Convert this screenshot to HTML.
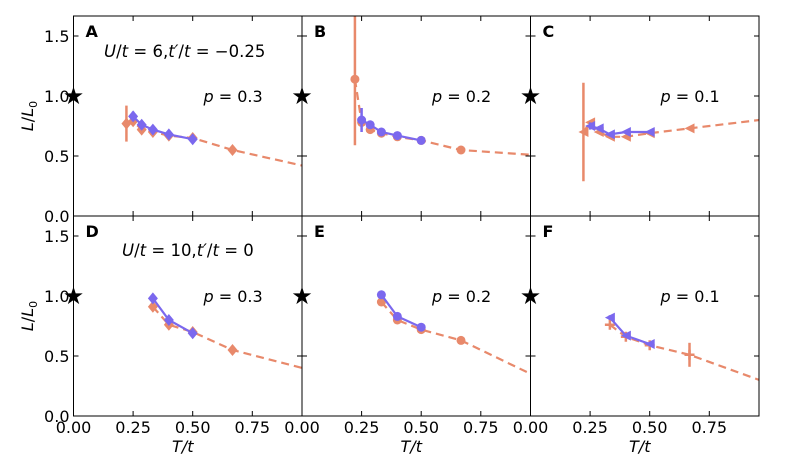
<!DOCTYPE html>
<html><head><meta charset="utf-8"><style>
body{margin:0;background:#fff}
svg text{font-family:"DejaVu Sans","Liberation Sans",sans-serif}
</style></head><body>
<svg id="c" width="788" height="465" xmlns="http://www.w3.org/2000/svg"></svg>
<script>
const xTicks=[0,0.25,0.5,0.75];
const xTickLabels=["0.00","0.25","0.50","0.75"];
const yTicks=[0,0.5,1.0,1.5];
const yTickLabels=["0.0","0.5","1.0","1.5"];
const panelLetters=["A","B","C","D","E","F"];
const pLabels=["p = 0.3","p = 0.2","p = 0.1","p = 0.3","p = 0.2","p = 0.1"];
const markers=["diamond","circle","tri","diamond","circle","plus"];
const blueMarkers=["diamond","circle","tri","diamond","circle","tri"];
const orangeX=[
 [0.222,0.25,0.286,0.333,0.4,0.5,0.667,0.96],
 [0.222,0.25,0.286,0.333,0.4,0.5,0.667,0.96],
 [0.222,0.25,0.286,0.333,0.4,0.5,0.667,0.96],
 [0.333,0.4,0.5,0.667,0.96],
 [0.333,0.4,0.5,0.667,0.96],
 [0.333,0.4,0.5,0.667,0.96]];
const orangeY=[
 [0.77,0.79,0.72,0.70,0.67,0.65,0.55,0.42],
 [1.14,0.78,0.72,0.69,0.66,0.63,0.55,0.51],
 [0.70,0.78,0.70,0.66,0.66,0.69,0.73,0.80],
 [0.91,0.76,0.70,0.55,0.40],
 [0.95,0.80,0.72,0.63,0.35],
 [0.76,0.66,0.59,0.51,0.30]];
const orangeErr=[
 [0.15,0,0,0,0,0,0],
 [0.55,0,0,0,0,0,0],
 [0.41,0,0,0,0,0,0],
 [0,0,0,0],
 [0,0,0,0],
 [0,0,0,0.1]];
const blueX=[[0.25,0.286,0.333,0.4,0.5],[0.25,0.286,0.333,0.4,0.5],[0.25,0.286,0.333,0.4,0.5],[0.333,0.4,0.5],[0.333,0.4,0.5],[0.333,0.4,0.5]];
const blueY=[[0.83,0.76,0.72,0.68,0.64],[0.80,0.76,0.70,0.67,0.63],[0.75,0.73,0.68,0.70,0.70],[0.98,0.80,0.69],[1.01,0.83,0.74],[0.82,0.67,0.60]];
const blueErr=[[0.04,0,0,0,0],[0.1,0,0,0,0],[0.03,0,0,0,0],[0.03,0,0],[0.03,0,0],[0.02,0,0]];

const svg=document.getElementById('c');
const NS="http://www.w3.org/2000/svg";
function mk(t,a,p){const e=document.createElementNS(NS,t);for(const k in a)e.setAttribute(k,a[k]);(p||svg).appendChild(e);return e;}
const OR="#e8896b",BL="#7b68ee";
const colL=[73.5,302,530.5],W=228.5,rowT=[16,216],H=200;
const XMAX=W/238.4,YMAX=H/120;
function marker(g,type,x,y,col){
 let e;
 if(type==="diamond")e=mk('polygon',{points:`${x},${y-6} ${x+5},${y} ${x},${y+6} ${x-5},${y}`,fill:col},g);
 else if(type==="circle")e=mk('circle',{cx:x,cy:y,r:4.5,fill:col},g);
 else if(type==="tri")e=mk('polygon',{points:`${x-5},${y} ${x+5},${y-5} ${x+5},${y+5}`,fill:col},g);
 else e=mk('path',{d:`M${x-5},${y}H${x+5}M${x},${y-5}V${y+5}`,stroke:col,'stroke-width':2.5},g);
 
 
}
for(let i=0;i<6;i++){
 const r=Math.floor(i/3),c=i%3,L=colL[c],T=rowT[r];
 const sx=v=>L+v/XMAX*W, sy=v=>T+H-v/YMAX*H;
 const g=mk('g',{});
 
 
 const cid='cl'+i;
 const cp=mk('clipPath',{id:cid},g);mk('rect',{x:L,y:T,width:W,height:H},cp);
 const d=mk('g',{'clip-path':`url(#${cid})`},g);
 const ox=orangeX[i],oy=orangeY[i];
 const ol=mk('polyline',{points:ox.map((v,j)=>sx(v)+','+sy(oy[j])).join(' '),fill:'none',stroke:OR,'stroke-width':2.2,'stroke-dasharray':'8,5'},d);
 
 
 for(let j=0;j<ox.length-1;j++){
  const e=orangeErr[i][j]||0;
  if(e>0){const eb=mk('line',{x1:sx(ox[j]),x2:sx(ox[j]),y1:sy(oy[j]-e),y2:sy(oy[j]+e),stroke:OR,'stroke-width':2.5},d);
   
   }
  marker(d,markers[i],sx(ox[j]),sy(oy[j]),OR);
 }
 const bx=blueX[i],by=blueY[i];
 const bl=mk('polyline',{points:bx.map((v,j)=>sx(v)+','+sy(by[j])).join(' '),fill:'none',stroke:BL,'stroke-width':2.2},d);
 
 
 for(let j=0;j<bx.length;j++){
  const e=blueErr[i][j];
  if(e>0){const eb=mk('line',{x1:sx(bx[j]),x2:sx(bx[j]),y1:sy(by[j]-e),y2:sy(by[j]+e),stroke:BL,'stroke-width':2.5},d);
   
   }
  marker(d,blueMarkers[i],sx(bx[j]),sy(by[j]),BL);
 }
 mk('rect',{x:L,y:T,width:W,height:H,fill:'none',stroke:'#000','stroke-width':1},g);
 yTicks.forEach((v,k)=>{const y=sy(v);
  mk('line',{x1:L,x2:L+5,y1:y,y2:y,stroke:'#000'},g);
  mk('line',{x1:L+W-5,x2:L+W,y1:y,y2:y,stroke:'#000'},g);
  if(c===0){const t=mk('text',{x:L-4,y:y+6,'text-anchor':'end','font-size':16},g);t.textContent=yTickLabels[k];
   }
 });
 xTicks.forEach((v,k)=>{const x=sx(v);
  mk('line',{x1:x,x2:x,y1:T+H-5,y2:T+H,stroke:'#000'},g);
  mk('line',{x1:x,x2:x,y1:T,y2:T+5,stroke:'#000'},g);
  if(r===1){const t=mk('text',{x:x,y:433,'text-anchor':'middle','font-size':16},g);t.textContent=xTickLabels[k];
   }
 });
 const s=mk('text',{x:L,y:sy(1)+8,'text-anchor':'middle','font-size':24},g);s.textContent='★';
 
 const lt=mk('text',{x:L+12,y:T+21,'font-size':16,'font-weight':'bold'},g);lt.textContent=panelLetters[i];
 
 const pt=mk('text',{x:L+130,y:T+86,'font-size':16},g);
 pt.innerHTML='<tspan font-style="italic">p</tspan> = '+pLabels[i].split('= ')[1];
 
 if(r===1){const xl=mk('text',{x:L+W/2-5,y:452,'text-anchor':'middle','font-size':16,'font-style':'italic'},g);xl.textContent='T/t';
  }
 if(c===0){const yl=mk('text',{x:0,y:0,'text-anchor':'middle','font-size':16,transform:`translate(33,${T+H/2}) rotate(-90)`},g);
  yl.innerHTML='<tspan font-style="italic">L</tspan>/<tspan font-style="italic">L</tspan><tspan font-size="11" dy="4">0</tspan>';
  }
}
const a1=mk('text',{x:104,y:57,'font-size':16.5});
a1.innerHTML='<tspan font-style="italic">U</tspan>/<tspan font-style="italic">t</tspan> = 6,<tspan font-style="italic">t′</tspan>/<tspan font-style="italic">t</tspan> = −0.25';

const a2=mk('text',{x:122,y:256,'font-size':16.5});
a2.innerHTML='<tspan font-style="italic">U</tspan>/<tspan font-style="italic">t</tspan> = 10,<tspan font-style="italic">t′</tspan>/<tspan font-style="italic">t</tspan> = 0';

</script>
</body></html>
